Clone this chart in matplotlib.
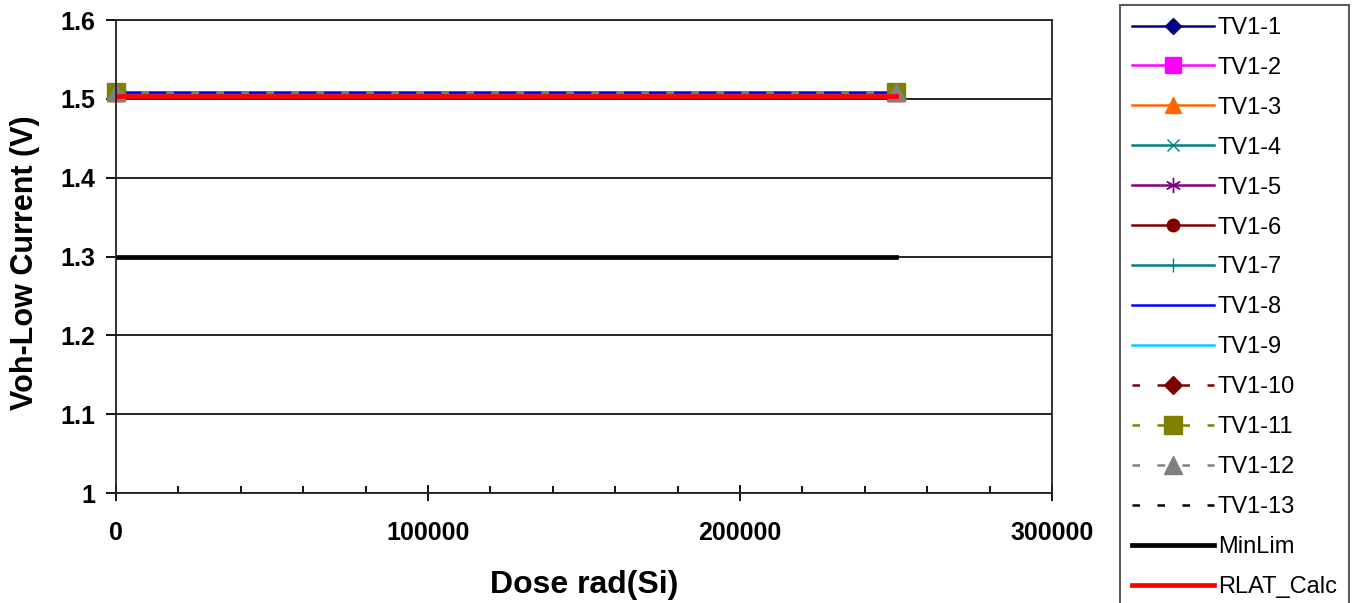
import matplotlib.pyplot as plt
from matplotlib.ticker import MultipleLocator

plt.rcParams['font.family'] = ['Liberation Sans', 'DejaVu Sans']

# data
dose = [0, 250000]
series_names = ['TV1-1', 'TV1-2', 'TV1-3', 'TV1-4', 'TV1-5', 'TV1-6', 'TV1-7',
                'TV1-8', 'TV1-9', 'TV1-10', 'TV1-11', 'TV1-12', 'TV1-13']
series_values = [
    [1.508, 1.508], [1.508, 1.508], [1.508, 1.508], [1.508, 1.508],
    [1.508, 1.508], [1.508, 1.508], [1.508, 1.508], [1.509, 1.509],
    [1.505, 1.505], [1.509, 1.509], [1.509, 1.509], [1.509, 1.509],
    [],  # TV1-13: no points visible
]
minlim = [1.3, 1.3]
rlat_calc = [1.503, 1.503]

y_ticks = [1.0, 1.1, 1.2, 1.3, 1.4, 1.5, 1.6]
y_tick_labels = ['1', '1.1', '1.2', '1.3', '1.4', '1.5', '1.6']
x_ticks = [0, 100000, 200000, 300000]
x_tick_labels = ['0', '100000', '200000', '300000']

# Excel-ish styles: (colour, marker, marker size, dashed)
styles = [
    ('#000080', 'D', 8, False),
    ('#FF00FF', 's', 12, False),
    ('#FF6600', '^', 12, False),
    ('#008080', 'x', 9, False),
    ('#800080', (6, 2, 0), 11, False),
    ('#800000', 'o', 9, False),
    ('#008080', '|', 10, False),
    ('#0000FF', None, 0, False),
    ('#00CCFF', None, 0, False),
    ('#800000', 'D', 9, True),
    ('#808000', 's', 13, True),
    ('#808080', '^', 13, True),
    ('#000000', None, 0, True),
]

fig = plt.figure(figsize=(13.54, 6.03), dpi=100)
ax = fig.add_axes([0.0857, 0.1824, 0.6913, 0.7844])

for name, vals, (col, mk, ms, dashed) in zip(series_names, series_values, styles):
    xs = dose[:len(vals)]
    line, = ax.plot(xs, vals, color=col, marker=mk, markersize=ms,
                    markeredgecolor=col, markerfacecolor=col,
                    linewidth=1.8, label=name, clip_on=False)
    if dashed:
        line.set_dashes((3, 7))

ax.plot(dose, minlim, color='black', linewidth=3.4, label='MinLim')
ax.plot(dose, rlat_calc, color='#FF0000', linewidth=3.4, label='RLAT_Calc')

ax.set_xlim(0, 300000)
ax.set_ylim(1.0, 1.6)
ax.set_yticks(y_ticks)
ax.set_yticklabels(y_tick_labels)
ax.set_xticks(x_ticks)
ax.set_xticklabels(x_tick_labels)
ax.xaxis.set_minor_locator(MultipleLocator(20000))
ax.yaxis.grid(True, color='black', linewidth=1.2)
ax.set_axisbelow(True)

for s in ax.spines.values():
    s.set_linewidth(1.3)
    s.set_color('#222222')
ax.tick_params(axis='x', which='major', direction='inout', length=12, width=1.3,
               labelsize=18, pad=14)
ax.tick_params(axis='x', which='minor', direction='in', length=5, width=1.3)
ax.tick_params(axis='y', which='major', direction='out', length=7, width=1.3,
               labelsize=18, pad=8)
for lbl in ax.get_xticklabels() + ax.get_yticklabels():
    lbl.set_fontweight('bold')

ax.set_xlabel('Dose rad(Si)', fontsize=23, fontweight='bold', labelpad=18)
ax.set_ylabel('Voh-Low Current (V)', fontsize=22, fontweight='bold')
ax.yaxis.set_label_coords(-0.081, 0.486)

leg = fig.legend(loc='upper left', bbox_to_anchor=(1120 / 1354, 1 - 5 / 603),
                 fontsize=17, labelspacing=0.76, handlelength=3.5,
                 handletextpad=0.15, borderpad=0.5, fancybox=False,
                 frameon=True, edgecolor='#333333', borderaxespad=0)
leg.get_frame().set_linewidth(1.5)

fig.savefig('out.png', dpi=100)
